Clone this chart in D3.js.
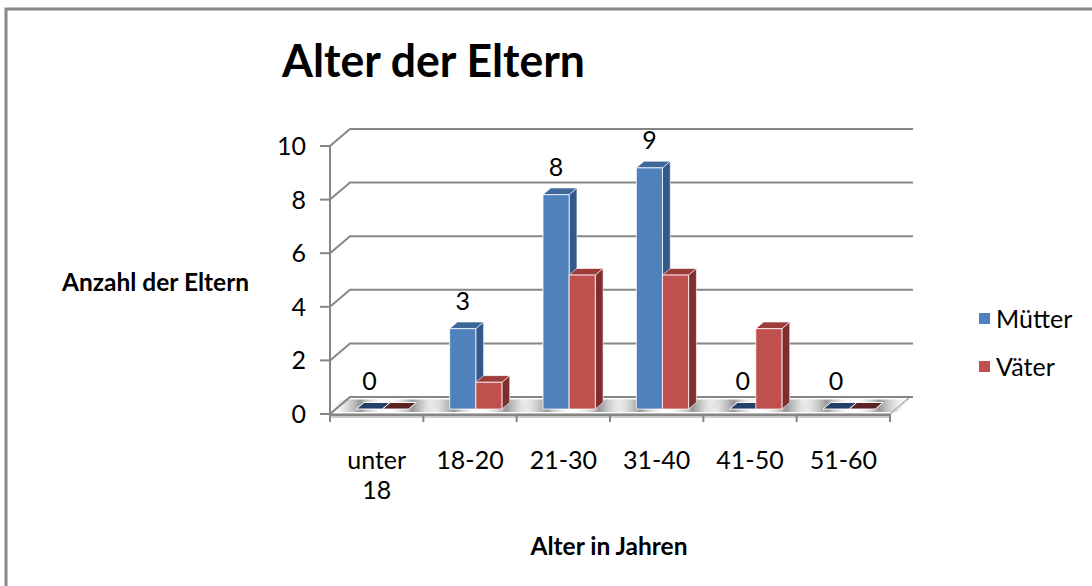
<!DOCTYPE html>
<html>
<head>
<meta charset="utf-8">
<script src="https://cdn.jsdelivr.net/npm/d3@7"></script>
<style>
  body { margin: 0; background: #fff; }
  text { font-family: Lato, "Open Sans", sans-serif; fill: #000; }
  .axis-title { font-weight: bold; font-size: 24.5px; }
  .tick-label { font-size: 25px; }
  .grid { stroke: #868686; stroke-width: 2; fill: none; }
</style>
</head>
<body>
<div id="graph-container"></div>
<script>
const categories = ['unter 18', '18-20', '21-30', '31-40', '41-50', '51-60'];
const seriesNames = ['Mütter', 'Väter'];
const muetter = [0, 3, 8, 9, 0, 0];
const vaeter = [0, 1, 5, 5, 3, 0];
const yTicks = [0, 2, 4, 6, 8, 10];

const colors = {
  'Mütter': { front: '#4f81bd', side: '#34588a', top: '#3d6699', flat: '#22406a' },
  'Väter': { front: '#c0504d', side: '#7e2f2d', top: '#9c3d3a', flat: '#5a2220' }
};

const width = 1092, height = 586;
// depth of the 3d box: offset of the back wall relative to the front plane
const depth = { dx: 20, dy: -17 };
const barDepth = [0.29, 0.68];

const svg = d3.select('#graph-container')
              .append('svg')
              .attr('width', width)
              .attr('height', height);

const x = d3.scaleBand()
            .domain(categories)
            .range([330, 890])
            .padding(0);

const xs = d3.scaleBand()
             .domain(seriesNames)
             .range([x.bandwidth() * 0.22, x.bandwidth() * 0.78])
             .padding(0);

const y = d3.scaleLinear()
            .domain([0, 10])
            .range([414, 146]);

// projected point: p(xFront, value, z)
function p(px, v, z) {
  return [px + z * depth.dx, y(v) + z * depth.dy];
}
function poly(pts) {
  return 'M' + pts.map(d => d.join(',')).join('L') + 'Z';
}

// outer frame
svg.append('rect')
   .attr('x', 6)
   .attr('y', 9)
   .attr('width', width + 20)
   .attr('height', height + 20)
   .attr('fill', 'none')
   .attr('stroke', '#878787')
   .attr('stroke-width', 3);

// shadow gradient for the floor
const defs = svg.append('defs');
const grad = defs.append('linearGradient').attr('id', 'floorShade');
[[0, '#ffffff', 0], [0.28, '#8c8c8c', 0.9], [0.5, '#ffffff', 0], [0.72, '#8c8c8c', 0.9], [1, '#ffffff', 0]]
  .forEach(s => grad.append('stop')
                    .attr('offset', s[0])
                    .attr('stop-color', s[1])
                    .attr('stop-opacity', s[2]));

// floor plate
const x0 = x.range()[0], x1 = x.range()[1];
svg.append('path')
   .attr('d', poly([[x0, y(0)], [x1, y(0)], [x1, y(0) + 3], [x0, y(0) + 3]]))
   .attr('fill', '#f2f2f2')
   .attr('stroke', '#a0a0a0');
svg.append('path')
   .attr('d', poly([p(x0, 0, 0), p(x1, 0, 0), p(x1, 0, 1), p(x0, 0, 1)]))
   .attr('fill', '#fff')
   .attr('stroke', '#a6a6a6')
   .attr('stroke-width', 1.5);

// floor shading around each pair
categories.forEach(function(c) {
  const l = x(c) + xs.range()[0] - 26, r = x(c) + xs.range()[1] + 26;
  svg.append('path')
     .attr('d', poly([p(l, 0, 0.12), p(r, 0, 0.12), p(r, 0, 0.85), p(l, 0, 0.85)]))
     .attr('fill', 'url(#floorShade)');
});

// left wall diagonals and back wall gridlines
yTicks.forEach(function(t) {
  svg.append('path')
     .attr('class', 'grid')
     .attr('d', 'M' + p(x0, t, 0).join(',') + 'L' + p(x0, t, 1).join(',') + 'L' + [913, y(t) + depth.dy].join(','));
  svg.append('line')
     .attr('class', 'grid')
     .attr('x1', x0 - 10).attr('y1', y(t))
     .attr('x2', x0).attr('y2', y(t));
  svg.append('text')
     .attr('class', 'tick-label')
     .attr('x', 306)
     .attr('y', y(t))
     .attr('dy', '0.36em')
     .attr('text-anchor', 'end')
     .text(t);
});

// value axis line
svg.append('line')
   .attr('class', 'grid')
   .attr('x1', x0).attr('y1', y(10))
   .attr('x2', x0).attr('y2', y(0));

// category axis line and ticks
svg.append('line')
   .attr('class', 'grid')
   .attr('x1', x0).attr('y1', y(0) + 1)
   .attr('x2', x1).attr('y2', y(0) + 1);
categories.concat([null]).forEach(function(c, i) {
  const tx = i < categories.length ? x(c) : x1;
  svg.append('line')
     .attr('class', 'grid')
     .attr('x1', tx).attr('y1', y(0))
     .attr('x2', tx).attr('y2', y(0) + 8);
});

// category labels
categories.forEach(function(c) {
  const lbl = svg.append('text')
                 .attr('class', 'tick-label')
                 .attr('text-anchor', 'middle')
                 .attr('x', x(c) + x.bandwidth() / 2)
                 .attr('y', 469);
  c.split(' ').forEach(function(part, i) {
    lbl.append('tspan')
       .attr('x', x(c) + x.bandwidth() / 2)
       .attr('dy', i === 0 ? 0 : 30)
       .text(part);
  });
});

// bars
const data = categories.map((c, i) => ({ cat: c, values: [muetter[i], vaeter[i]] }));
data.forEach(function(d) {
  seriesNames.forEach(function(s, si) {
    const v = d.values[si];
    const bx0 = x(d.cat) + xs(s), bx1 = bx0 + xs.bandwidth();
    const zf = barDepth[0], zb = barDepth[1];
    const col = colors[s];
    const g = svg.append('g').attr('class', 'bar');
    if (v === 0) {
      g.append('path')
       .attr('d', poly([p(bx0, 0, zf), p(bx1, 0, zf), p(bx1, 0, zb), p(bx0, 0, zb)]))
       .attr('fill', col.flat)
       .attr('stroke', '#fff')
       .attr('stroke-width', 1);
      return;
    }
    // side
    g.append('path')
     .attr('d', poly([p(bx1, 0, zf), p(bx1, v, zf), p(bx1, v, zb), p(bx1, 0, zb)]))
     .attr('fill', col.side)
     .attr('stroke', '#fff')
     .attr('stroke-opacity', 0.6);
    // top
    g.append('path')
     .attr('d', poly([p(bx0, v, zf), p(bx1, v, zf), p(bx1, v, zb), p(bx0, v, zb)]))
     .attr('fill', col.top)
     .attr('stroke', '#fff')
     .attr('stroke-opacity', 0.6);
    // front
    g.append('path')
     .attr('d', poly([p(bx0, 0, zf), p(bx1, 0, zf), p(bx1, v, zf), p(bx0, v, zf)]))
     .attr('fill', col.front)
     .attr('stroke', '#fff')
     .attr('stroke-opacity', 0.8);
  });
});

// value labels (Mütter only)
data.forEach(function(d) {
  const s = seriesNames[0];
  const v = d.values[0];
  const cx = x(d.cat) + xs(s) + xs.bandwidth() / 2 + barDepth[0] * depth.dx;
  svg.append('text')
     .attr('class', 'tick-label')
     .attr('text-anchor', 'middle')
     .attr('x', cx)
     .attr('y', p(0, v, barDepth[1])[1] - 12)
     .text(v);
});

// titles
svg.append('text')
   .attr('x', 282)
   .attr('y', 77)
   .attr('font-size', 46)
   .attr('font-weight', 'bold')
   .attr('textLength', 303)
   .attr('lengthAdjust', 'spacingAndGlyphs')
   .text('Alter der Eltern');

svg.append('text')
   .attr('class', 'axis-title')
   .attr('x', 62)
   .attr('y', 291)
   .text('Anzahl der Eltern');

svg.append('text')
   .attr('class', 'axis-title')
   .attr('text-anchor', 'middle')
   .attr('x', 609)
   .attr('y', 555)
   .text('Alter in Jahren');

// legend
seriesNames.forEach(function(s, i) {
  const ly = 319 + i * 48;
  svg.append('rect')
     .attr('x', 979)
     .attr('y', ly - 6)
     .attr('width', 11)
     .attr('height', 11)
     .attr('fill', colors[s].front);
  svg.append('text')
     .attr('class', 'tick-label')
     .attr('x', 996)
     .attr('y', ly)
     .attr('dy', '0.36em')
     .text(s);
});
</script>
</body>
</html>
